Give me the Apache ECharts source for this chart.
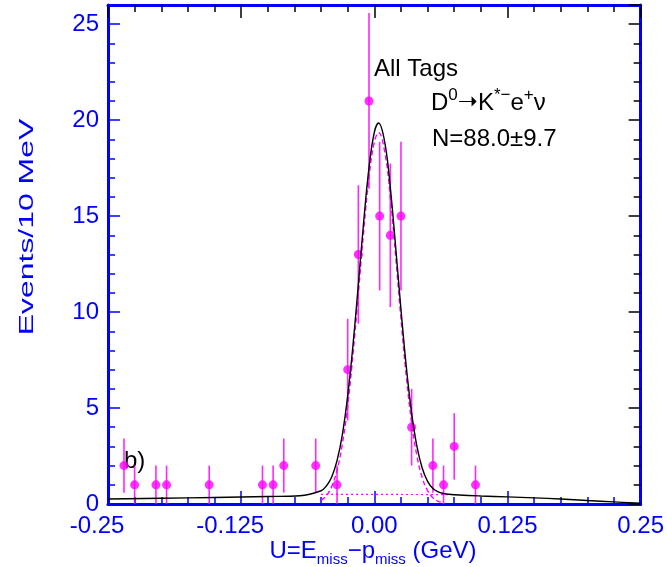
<!DOCTYPE html>
<html>
<head>
<meta charset="utf-8">
<script src="https://cdn.jsdelivr.net/npm/echarts@6/dist/echarts.min.js"></script>
<style>
  html, body { margin: 0; padding: 0; background: #ffffff; }
  #chart { width: 667px; height: 567px; }
</style>
</head>
<body>
<div id="chart"></div>
<script>
// Event counts per 10 MeV bin of U = E_miss - p_miss (GeV)
const binCenters = [-0.235, -0.225, -0.205, -0.195, -0.155, -0.105, -0.095, -0.085, -0.055, -0.035,
                    -0.025, -0.015, -0.005, 0.005, 0.015, 0.025, 0.035, 0.055, 0.065, 0.075, 0.095];
const eventCounts = [2, 1, 1, 1, 1, 1, 1, 2, 2, 1,
                     7, 13, 21, 15, 14, 15, 4, 2, 1, 3, 1];
// Poisson uncertainties (sqrt N)
const countErrors = [1.41, 1, 1, 1, 1, 1, 1, 1.41, 1.41, 1,
                     2.65, 3.61, 4.58, 3.87, 3.74, 3.87, 2, 1.41, 1, 1.73, 1];

// Total fit (signal + background), sampled along U
const fitU = [-0.25, -0.2, -0.15, -0.1, -0.07, -0.05, -0.045, -0.04, -0.035, -0.03, -0.025, -0.02,
              -0.015, -0.01, -0.005, 0.0, 0.004, 0.01, 0.015, 0.02, 0.025, 0.03, 0.035, 0.04,
              0.045, 0.05, 0.055, 0.06, 0.065, 0.07, 0.08, 0.1, 0.125, 0.15, 0.175, 0.2, 0.225, 0.25];
const fitTotal = [0.26, 0.30, 0.34, 0.39, 0.43, 0.69, 0.94, 1.41, 2.26, 3.62, 5.63, 8.30,
                  11.45, 14.70, 17.53, 19.37, 19.85, 18.78, 16.49, 13.42, 10.15, 7.16, 4.75, 3.00,
                  1.86, 1.18, 0.81, 0.63, 0.55, 0.51, 0.47, 0.42, 0.37, 0.32, 0.26, 0.18, 0.11, 0.04];

// Signal component
const sigU = [-0.05, -0.045, -0.04, -0.035, -0.03, -0.025, -0.02, -0.015, -0.01, -0.005, 0.0, 0.004,
              0.01, 0.015, 0.02, 0.025, 0.03, 0.035, 0.04, 0.045, 0.05, 0.055, 0.06, 0.065];
const sigCurve = [0.19, 0.44, 0.91, 1.76, 3.12, 5.13, 7.80, 10.95, 14.20, 17.03, 18.87, 19.35,
                  18.28, 15.99, 12.92, 9.65, 6.66, 4.25, 2.50, 1.36, 0.69, 0.32, 0.14, 0.06];

// Background component under the peak
const bkgU = [-0.05, 0.0, 0.07];
const bkgCurve = [0.50, 0.50, 0.49];

// Axis tick labels
const xTickValues = [-0.25, -0.125, 0.0, 0.125, 0.25];
const xTickLabels = ['-0.25', '-0.125', '0.00', '0.125', '0.25'];
const yTickValues = [0, 5, 10, 15, 20, 25];

const BLUE = '#0000ff';
const MAGENTA = '#ff00ff';
const FONT = '"Liberation Sans", Arial, Helvetica, sans-serif';

const pairs = (xs, ys) => xs.map((x, i) => [x, ys[i]]);

// negative labels keep their digits centred on the tick, the sign hangs to the left
function xLabel(v) {
  const i = xTickValues.findIndex(t => Math.abs(t - v) < 1e-9);
  if (i < 0) return '';
  const s = xTickLabels[i];
  return s.charAt(0) === '-' ? '{n|' + s + '}{pad| }' : '{n|' + s + '}';
}
function yLabel(v) {
  return yTickValues.indexOf(v) >= 0 ? String(v) : '';
}

const X_MIN = -0.25, X_MAX = 0.25, Y_MIN = 0, Y_MAX = 26;

function xAxisCfg(pos, tickColor, showLabel) {
  return {
    type: 'value', position: pos, min: X_MIN, max: X_MAX, interval: 0.125,
    axisLine: { show: true, onZero: false, lineStyle: { color: BLUE, width: 3 } },
    axisTick: { show: true, inside: true, length: 13, lineStyle: { color: tickColor, width: 1.5 } },
    minorTick: { show: true, splitNumber: 5, length: 7, lineStyle: { color: tickColor, width: 1.5 } },
    splitLine: { show: false }, minorSplitLine: { show: false },
    axisLabel: {
      show: showLabel, color: BLUE, fontSize: 24, fontFamily: FONT, margin: 10,
      formatter: xLabel, showMinLabel: true, showMaxLabel: true,
      rich: {
        n: { color: BLUE, fontSize: 24, fontFamily: FONT },
        pad: { fontSize: 24, fontFamily: FONT, width: 22 }
      }
    }
  };
}
function yAxisCfg(pos, interval, tickColor, tickLen, showLine, showLabel) {
  return {
    type: 'value', position: pos, min: Y_MIN, max: Y_MAX, interval: interval,
    axisLine: { show: showLine, onZero: false, lineStyle: { color: BLUE, width: 3 } },
    axisTick: { show: true, inside: true, length: tickLen, lineStyle: { color: tickColor, width: 1.5 } },
    splitLine: { show: false },
    axisLabel: { show: showLabel, color: BLUE, fontSize: 24, fontFamily: FONT, margin: 9,
                 formatter: yLabel }
  };
}

const option = {
  animation: false,
  backgroundColor: '#ffffff',
  grid: { left: 108, top: 5, width: 533, height: 499, containLabel: false },
  xAxis: [
    xAxisCfg('bottom', BLUE, true),
    xAxisCfg('top', '#000000', false)
  ],
  yAxis: [
    yAxisCfg('left', 5, BLUE, 12, true, true),
    yAxisCfg('left', 1, BLUE, 7, false, false),
    yAxisCfg('right', 5, '#000000', 12, true, false),
    yAxisCfg('right', 1, '#000000', 7, false, false)
  ],
  series: [
    {
      // vertical error bars
      type: 'custom',
      xAxisIndex: 0, yAxisIndex: 0,
      clip: true,
      data: binCenters.map((u, i) => [u, Math.max(0, eventCounts[i] - countErrors[i]), eventCounts[i] + countErrors[i]]),
      renderItem: function (params, api) {
        const top = api.coord([api.value(0), api.value(2)]);
        const bot = api.coord([api.value(0), api.value(1)]);
        return {
          type: 'line',
          shape: { x1: top[0], y1: top[1], x2: bot[0], y2: bot[1] },
          style: { stroke: MAGENTA, lineWidth: 1.6, opacity: 0.85 }
        };
      },
      z: 2
    },
    {
      type: 'scatter',
      xAxisIndex: 0, yAxisIndex: 0,
      data: pairs(binCenters, eventCounts),
      symbol: 'circle', symbolSize: 9,
      itemStyle: { color: MAGENTA },
      z: 3
    },
    {
      type: 'line',
      xAxisIndex: 0, yAxisIndex: 0,
      data: pairs(bkgU, bkgCurve),
      showSymbol: false, symbol: 'none',
      lineStyle: { color: MAGENTA, width: 1.2, type: [2, 3] },
      z: 4
    },
    {
      type: 'line',
      xAxisIndex: 0, yAxisIndex: 0,
      data: pairs(sigU, sigCurve),
      smooth: 0.4, showSymbol: false, symbol: 'none',
      lineStyle: { color: MAGENTA, width: 1.4, type: [5, 3] },
      z: 4
    },
    {
      type: 'line',
      xAxisIndex: 0, yAxisIndex: 0,
      data: pairs(fitU, fitTotal),
      smooth: 0.4, showSymbol: false, symbol: 'none',
      lineStyle: { color: '#000000', width: 1.4 },
      z: 5
    }
  ],
  graphic: [
    {
      type: 'text', x: 27, y: 227, rotation: Math.PI / 2, scaleX: 1.52,
      style: { text: 'Events/10 MeV', fill: BLUE, fontSize: 21, fontFamily: FONT,
               align: 'center', verticalAlign: 'middle' }
    },
    {
      type: 'text', x: 373, y: 551,
      style: {
        text: '{m|U=E}{sub|miss}{m|\u2212p}{sub|miss}{m| (GeV)}',
        fill: BLUE, fontFamily: FONT, fontSize: 24, align: 'center', verticalAlign: 'middle',
        rich: {
          m: { fontSize: 24, fontFamily: FONT, fill: BLUE, lineHeight: 32, verticalAlign: 'middle' },
          sub: { fontSize: 15, fontFamily: FONT, fill: BLUE, lineHeight: 12, verticalAlign: 'bottom' }
        }
      }
    },
    {
      type: 'text', x: 374, y: 69,
      style: { text: 'All Tags', fill: '#000000', fontSize: 24, fontFamily: FONT,
               align: 'left', verticalAlign: 'middle' }
    },
    {
      type: 'text', x: 431, y: 103,
      style: {
        text: '{m|D}{sup|0}{arr|\u279D}{m|K}{sup|*\u2212}{m|e}{sup|+}{m|\u03bd}',
        fill: '#000000', fontFamily: FONT, fontSize: 24, align: 'left', verticalAlign: 'middle',
        rich: {
          m: { fontSize: 24, fontFamily: FONT, fill: '#000000', lineHeight: 32, verticalAlign: 'middle' },
          arr: { fontSize: 24, fontFamily: '"DejaVu Sans"', fill: '#000000', lineHeight: 32, verticalAlign: 'middle' },
          sup: { fontSize: 17, fontFamily: FONT, fill: '#000000', lineHeight: 16, verticalAlign: 'top' }
        }
      }
    },
    {
      type: 'text', x: 432, y: 139,
      style: { text: 'N=88.0\u00b19.7', fill: '#000000', fontSize: 24, fontFamily: FONT,
               align: 'left', verticalAlign: 'middle' }
    },
    {
      type: 'text', x: 124, y: 461,
      style: { text: 'b)', fill: '#000000', fontSize: 24, fontFamily: FONT,
               align: 'left', verticalAlign: 'middle' }
    }
  ]
};

const chart = echarts.init(document.getElementById('chart'));
chart.setOption(option);
</script>
</body>
</html>
